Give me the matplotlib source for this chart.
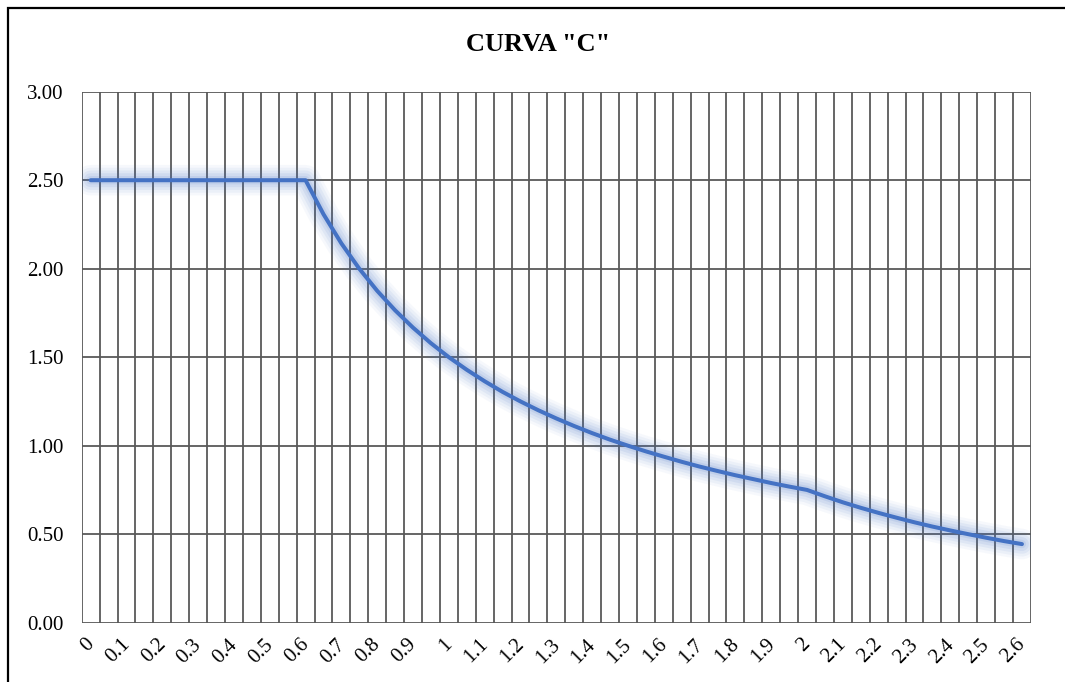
import numpy as np
import matplotlib.pyplot as plt
from matplotlib.patches import Rectangle
from matplotlib.transforms import ScaledTranslation

# periodo T (s), paso 0.05
periodos = [0.00, 0.05, 0.10, 0.15, 0.20, 0.25, 0.30, 0.35, 0.40, 0.45,
            0.50, 0.55, 0.60, 0.65, 0.70, 0.75, 0.80, 0.85, 0.90, 0.95,
            1.00, 1.05, 1.10, 1.15, 1.20, 1.25, 1.30, 1.35, 1.40, 1.45,
            1.50, 1.55, 1.60, 1.65, 1.70, 1.75, 1.80, 1.85, 1.90, 1.95,
            2.00, 2.05, 2.10, 2.15, 2.20, 2.25, 2.30, 2.35, 2.40, 2.45,
            2.50, 2.55, 2.60]
# factor C
valores_c = [2.50, 2.50, 2.50, 2.50, 2.50, 2.50, 2.50, 2.50, 2.50, 2.50,
             2.50, 2.50, 2.50, 2.308, 2.143, 2.000, 1.875, 1.765, 1.667, 1.579,
             1.500, 1.429, 1.364, 1.304, 1.250, 1.200, 1.154, 1.111, 1.071, 1.034,
             1.000, 0.968, 0.938, 0.909, 0.882, 0.857, 0.833, 0.811, 0.789, 0.769,
             0.750, 0.714, 0.680, 0.649, 0.620, 0.593, 0.567, 0.543, 0.521, 0.500,
             0.480, 0.461, 0.444]
etiquetas_x = ['0', '0.1', '0.2', '0.3', '0.4', '0.5', '0.6', '0.7', '0.8', '0.9',
               '1', '1.1', '1.2', '1.3', '1.4', '1.5', '1.6', '1.7', '1.8', '1.9',
               '2', '2.1', '2.2', '2.3', '2.4', '2.5', '2.6']

plt.rcParams['font.family'] = ['Liberation Serif', 'DejaVu Serif']

fig = plt.figure(figsize=(10.65, 6.82), dpi=100)
ax = fig.add_axes([0.0767, 0.087, 0.8913, 0.7785])  # [left, bottom, width, height]

# borde del area del grafico
fig.patches.append(Rectangle((8/1065, -0.05), 1.2, 1 - 8/682 + 0.05,
                             transform=fig.transFigure, fill=False,
                             edgecolor='black', linewidth=1.6))

n = len(periodos)
xs = np.arange(n)

# lineas de cuadricula (entre categorias)
grid_color = '#595959'
for gx in np.arange(-0.5, n, 1.0):
    ax.axvline(gx, color=grid_color, linewidth=1.3, zorder=1)
for gy in np.arange(0, 3.01, 0.5):
    ax.axhline(gy, color=grid_color, linewidth=1.3, zorder=1)

# brillo (glow) alrededor de la curva
for w, a in [(22, 0.045), (18, 0.06), (14, 0.075), (10, 0.09), (6, 0.11)]:
    ax.plot(xs, valores_c, color='#4472C4', linewidth=w, alpha=a,
            solid_capstyle='round', solid_joinstyle='round', zorder=2)
ax.plot(xs, valores_c, color='#4472C4', linewidth=2.9,
        solid_capstyle='round', solid_joinstyle='round', zorder=3)

ax.set_xlim(-0.5, n - 0.5)
ax.set_ylim(0, 3.0)
ax.set_yticks(np.arange(0, 3.01, 0.5))
ax.set_yticklabels(['%.2f' % v for v in np.arange(0, 3.01, 0.5)])
ax.set_xticks(xs[::2])
ax.set_xticklabels(etiquetas_x, rotation=45, ha='right', rotation_mode='anchor')
ax.tick_params(axis='both', length=0, labelsize=15)
ax.tick_params(axis='y', pad=13)
ax.tick_params(axis='x', pad=9)
shift = ScaledTranslation(-6/100, 0, fig.dpi_scale_trans)
for lbl in ax.get_xticklabels():
    lbl.set_transform(lbl.get_transform() + shift)
for s in ax.spines.values():
    s.set_visible(False)

fig.text(0.505, 0.935, 'CURVA "C"', ha='center', va='center',
         fontsize=19, fontweight='bold')

plt.savefig('out.png', dpi=100)
